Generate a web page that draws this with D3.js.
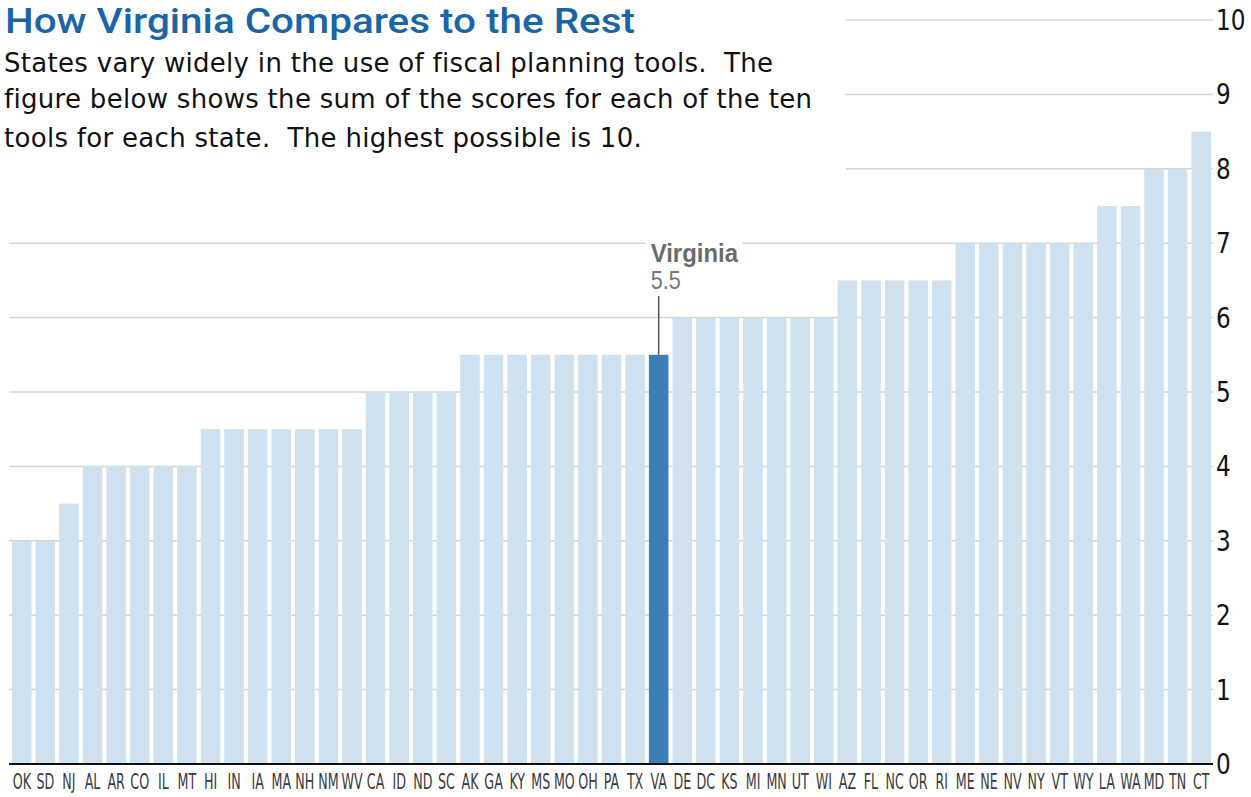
<!DOCTYPE html>
<html>
<head>
<meta charset="utf-8">
<script src="https://cdn.jsdelivr.net/npm/d3@7"></script>
<style>
  body { margin: 0; background: #fff; }
  svg { display: block; }
  text { white-space: pre; }
</style>
</head>
<body>
<svg id="chart"></svg>
<script>
const states = ['OK','SD','NJ','AL','AR','CO','IL','MT','HI','IN','IA','MA','NH','NM','WV','CA','ID','ND','SC','AK','GA','KY','MS','MO','OH','PA','TX','VA','DE','DC','KS','MI','MN','UT','WI','AZ','FL','NC','OR','RI','ME','NE','NV','NY','VT','WY','LA','WA','MD','TN','CT']
const scores = [3,3,3.5,4,4,4,4,4,4.5,4.5,4.5,4.5,4.5,4.5,4.5,5,5,5,5,5.5,5.5,5.5,5.5,5.5,5.5,5.5,5.5,5.5,6,6,6,6,6,6,6,6.5,6.5,6.5,6.5,6.5,7,7,7,7,7,7,7.5,7.5,8,8,8.5]
const yTicks = [0,1,2,3,4,5,6,7,8,9,10]
const highlight = 'VA'
const highlightName = 'Virginia'

const title = 'How Virginia Compares to the Rest'
const subtitle = [
  'States vary widely in the use of fiscal planning tools.  The',
  'figure below shows the sum of the scores for each of the ten',
  'tools for each state.  The highest possible is 10.'
]

const width = 1251
const height = 797
const narrow = '"Liberation Sans Narrow", "Arial Narrow", "DejaVu Sans Condensed", sans-serif'

const svg = d3.select('#chart')
  .attr('width', width)
  .attr('height', height)

const x = d3.scaleBand()
  .domain(states)
  .range([10, 1213])
  .paddingInner(0.17)
  .paddingOuter(0.085)

const y = d3.scaleLinear()
  .domain([0, 10])
  .range([764, 20])

// gridlines (upper ones stop short of the title block)
svg.append('g')
  .selectAll('line')
  .data(yTicks.filter(d => d > 0))
  .join('line')
  .attr('x1', d => d >= 8 ? 846 : 9)
  .attr('x2', 1213)
  .attr('y1', d => y(d))
  .attr('y2', d => y(d))
  .attr('stroke', '#d4d4d4')
  .attr('stroke-width', 1.5)

// bars
svg.append('g')
  .selectAll('rect')
  .data(states)
  .join('rect')
  .attr('x', d => x(d))
  .attr('width', x.bandwidth())
  .attr('y', (d, i) => y(scores[i]))
  .attr('height', (d, i) => y(0) - y(scores[i]))
  .attr('fill', d => d === highlight ? '#3c7fb8' : '#cfe0ee')

// baseline
svg.append('line')
  .attr('x1', 9)
  .attr('x2', 1213)
  .attr('y1', y(0))
  .attr('y2', y(0))
  .attr('stroke', '#111')
  .attr('stroke-width', 2)

// right axis labels
svg.append('g')
  .selectAll('text')
  .data(yTicks)
  .join('text')
  .attr('transform', d => `translate(1216, ${y(d) + 10}) scale(0.92, 1)`)
  .attr('font-family', narrow)
  .attr('font-size', 28)
  .attr('fill', '#111')
  .text(d => d)

// state labels
svg.append('g')
  .selectAll('text')
  .data(states)
  .join('text')
  .attr('transform', d => `translate(${x(d) + x.bandwidth() / 2}, 789) scale(0.64, 1)`)
  .attr('text-anchor', 'middle')
  .attr('font-family', narrow)
  .attr('font-size', 22)
  .attr('fill', '#3a3a3a')
  .text(d => d)

// Virginia callout
const hi = states.indexOf(highlight)
const hx = x(highlight) + x.bandwidth() / 2
const callout = svg.append('g')

callout.append('rect')
  .attr('x', hx - 13)
  .attr('y', 236)
  .attr('width', 97)
  .attr('height', 20)
  .attr('fill', '#fff')

callout.append('line')
  .attr('x1', hx)
  .attr('x2', hx)
  .attr('y1', 296)
  .attr('y2', y(scores[hi]))
  .attr('stroke', '#555')
  .attr('stroke-width', 1.5)

callout.append('text')
  .attr('transform', `translate(${hx - 8}, 262) scale(0.92, 1)`)
  .attr('font-family', '"Liberation Sans", Arial, sans-serif')
  .attr('font-weight', 'bold')
  .attr('font-size', 26)
  .attr('fill', '#6b6b6b')
  .text(highlightName)

callout.append('text')
  .attr('transform', `translate(${hx - 8}, 289) scale(0.83, 1)`)
  .attr('font-family', '"Liberation Sans", Arial, sans-serif')
  .attr('font-size', 26)
  .attr('fill', '#777')
  .text(scores[hi])

// title, stretched to the width it has in the original
const titleText = svg.append('text')
  .attr('font-family', 'Roboto, "Liberation Sans", sans-serif')
  .attr('font-weight', 500)
  .attr('font-size', 35)
  .attr('fill', '#1a64a8')
  .text(title)
const tw = titleText.node().getComputedTextLength()
titleText.attr('transform', `translate(5, 33) scale(${630 / tw}, 1)`)

svg.append('g')
  .selectAll('text')
  .data(subtitle)
  .join('text')
  .attr('x', 4)
  .attr('y', (d, i) => [72, 108, 147][i])
  .attr('font-family', '"DejaVu Sans", sans-serif')
  .attr('font-size', 26)
  .attr('letter-spacing', 0.3)
  .attr('fill', '#111')
  .text(d => d)
</script>
</body>
</html>
